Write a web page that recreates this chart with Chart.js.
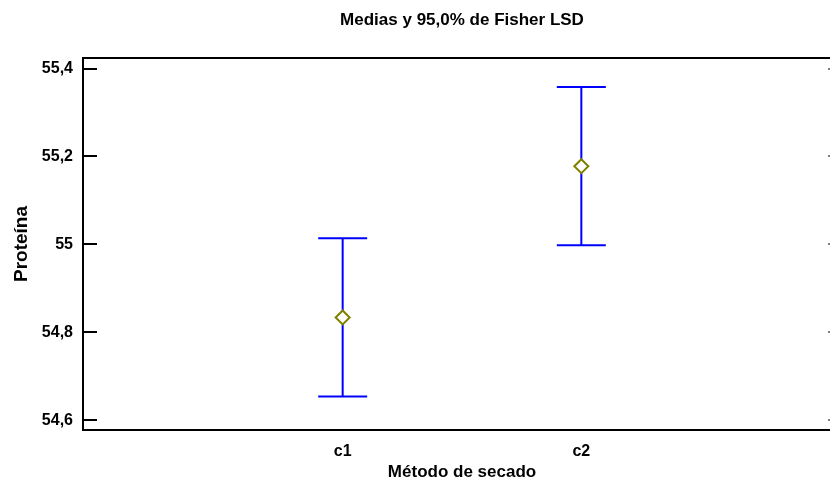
<!DOCTYPE html>
<html>
<head>
<meta charset="utf-8">
<script src="https://cdn.jsdelivr.net/npm/chart.js@4"></script>
<style>
  html, body { margin: 0; padding: 0; overflow: hidden; background: #ffffff; }
  canvas { display: block; }
</style>
</head>
<body>
<canvas id="chart" width="850" height="485"></canvas>
<script>
// Drying methods and their positions on the x axis
const categories = ['c1', 'c2'];
const categoryPositions = [1, 2];

// Mean protein and 95% Fisher LSD interval limits
const means = [54.834, 55.178];
const lowerLimits = [54.654, 54.998];
const upperLimits = [55.014, 55.358];

// Y axis ticks and their labels (decimal comma)
const yTicks = [54.6, 54.8, 55.0, 55.2, 55.4];
const yTickLabels = ['54,6', '54,8', '55', '55,2', '55,4'];

const FAMILY = '"Liberation Sans", Arial, sans-serif';
const TICK_FONT = { family: FAMILY, size: 16, weight: 'bold' };
const LABEL_FONT = { family: FAMILY, size: 17, weight: 'bold' };

// Vertical whiskers with caps, drawn beneath the mean markers
const intervalBars = {
  id: 'intervalBars',
  beforeDatasetsDraw(chart) {
    const { ctx, scales: { x, y } } = chart;
    ctx.save();
    ctx.strokeStyle = '#0000ff';
    ctx.lineWidth = 2;
    const capHalf = 24.5;
    categoryPositions.forEach((pos, i) => {
      const px = x.getPixelForValue(pos);
      const yLo = y.getPixelForValue(lowerLimits[i]);
      const yHi = y.getPixelForValue(upperLimits[i]);
      ctx.beginPath();
      ctx.moveTo(px, yLo);
      ctx.lineTo(px, yHi);
      ctx.moveTo(px - capHalf, yHi);
      ctx.lineTo(px + capHalf, yHi);
      ctx.moveTo(px - capHalf, yLo);
      ctx.lineTo(px + capHalf, yLo);
      ctx.stroke();
    });
    ctx.restore();
  }
};

// Plot frame with inward tick marks on both vertical sides
const plotFrame = {
  id: 'plotFrame',
  afterDraw(chart) {
    const { ctx, chartArea: a, scales: { y } } = chart;
    ctx.save();
    ctx.strokeStyle = '#000000';
    ctx.lineWidth = 2;
    ctx.strokeRect(a.left, a.top, a.right - a.left, a.bottom - a.top);
    ctx.beginPath();
    yTicks.forEach(v => {
      const py = Math.round(y.getPixelForValue(v));
      ctx.moveTo(a.left, py);
      ctx.lineTo(a.left + 14, py);
    });
    ctx.stroke();
    ctx.strokeStyle = '#808080';
    ctx.beginPath();
    yTicks.forEach(v => {
      const py = Math.round(y.getPixelForValue(v));
      ctx.moveTo(a.right, py);
      ctx.lineTo(a.right - 13, py);
    });
    ctx.stroke();
    ctx.restore();
  }
};

new Chart(document.getElementById('chart'), {
  type: 'scatter',
  data: {
    datasets: [{
      data: categoryPositions.map((pos, i) => ({ x: pos, y: means[i] })),
      pointStyle: 'rectRot',
      pointRadius: 7,
      pointHoverRadius: 7,
      pointBorderWidth: 2,
      pointBorderColor: '#808000',
      pointBackgroundColor: '#ffffff'
    }]
  },
  options: {
    responsive: false,
    animation: false,
    events: [],
    layout: { padding: { left: 0, top: 0, right: 8, bottom: 0 } },
    plugins: {
      legend: { display: false },
      tooltip: { enabled: false },
      title: {
        display: true,
        fullSize: false,
        text: 'Medias y 95,0% de Fisher LSD',
        color: '#000000',
        font: LABEL_FONT,
        padding: { top: 10, bottom: 27.6 }
      }
    },
    scales: {
      x: {
        type: 'linear',
        min: -0.088,
        max: 3.088,
        grid: { display: false },
        border: { display: false },
        afterBuildTicks: axis => { axis.ticks = categoryPositions.map(v => ({ value: v })); },
        afterFit: axis => { axis.height = 55; },
        ticks: {
          color: '#000000',
          font: TICK_FONT,
          padding: 4,
          maxRotation: 0,
          callback: (v) => categories[categoryPositions.indexOf(v)]
        },
        title: {
          display: true,
          text: 'Método de secado',
          color: '#000000',
          font: LABEL_FONT,
          padding: { top: 0, bottom: 2 }
        }
      },
      y: {
        min: 54.578,
        max: 55.424,
        grid: { display: false },
        border: { display: false },
        afterBuildTicks: axis => { axis.ticks = yTicks.map(v => ({ value: v })); },
        afterFit: axis => { axis.width = 83; },
        ticks: {
          color: '#000000',
          font: TICK_FONT,
          padding: 2,
          callback: (v, i) => yTickLabels[i]
        },
        title: {
          display: true,
          text: 'Proteína',
          color: '#000000',
          font: { family: FAMILY, size: 19, weight: 'bold' },
          padding: { top: 10, bottom: 0 }
        }
      }
    }
  },
  plugins: [intervalBars, plotFrame]
});
</script>
</body>
</html>
